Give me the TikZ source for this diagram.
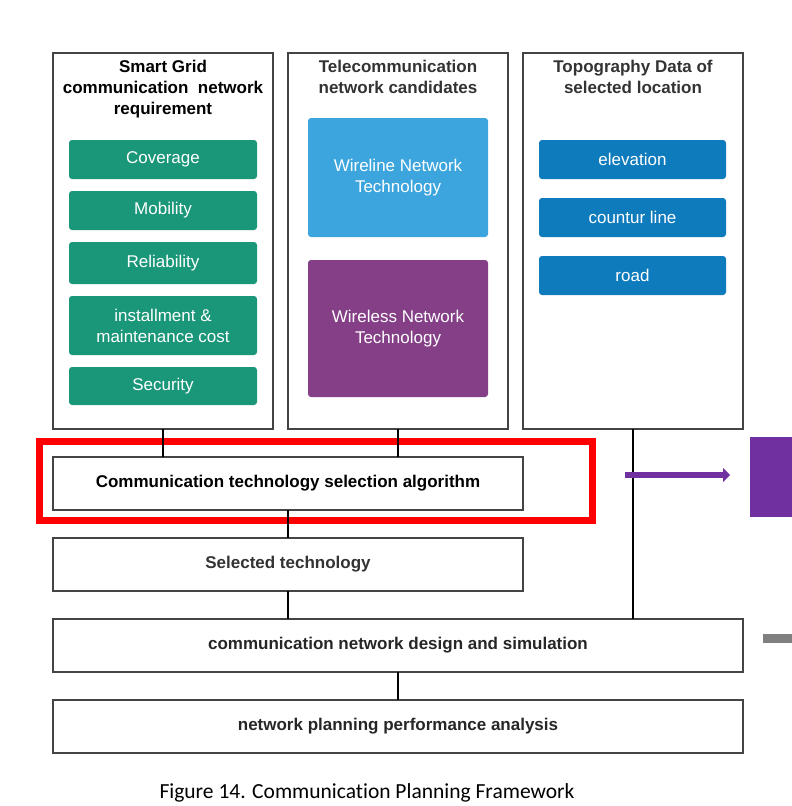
\documentclass[tikz,border=0pt]{standalone}
\usepackage{fontspec}
\setmainfont{Liberation Sans}
\newfontfamily\capfont[Ligatures=CommonOff]{Carlito}
\usetikzlibrary{arrows.meta}
\definecolor{reqgreen}{HTML}{1A9679}
\definecolor{wireblue}{HTML}{3CA5DD}
\definecolor{wirelesspurple}{HTML}{843F87}
\definecolor{topoblue}{HTML}{0E7BBD}
\definecolor{framegrey}{HTML}{444444}
\definecolor{sidepurple}{HTML}{7030A0}
\tikzset{
  outerbox/.style={draw=framegrey, line width=2.2pt, inner sep=0pt, outer sep=0pt, anchor=north west},
  titletext/.style={font=\fontsize{17}{21}\selectfont\bfseries, align=center, anchor=north},
  itembox/.style={rounded corners=3pt, inner sep=0pt, outer sep=0pt, anchor=north west, text=white,
    align=center, font=\fontsize{17}{21}\selectfont},
  stagebox/.style={draw=framegrey, line width=2.2pt, inner sep=0pt, outer sep=0pt, anchor=north west,
    font=\fontsize{17}{21}\selectfont\bfseries, minimum height=53pt},
  link/.style={draw=black, line width=1.4pt},
}
\begin{document}
\begin{tikzpicture}[x=1pt,y=-1pt]
\useasboundingbox (0,0) rectangle (792,806);
\clip (0,0) rectangle (792,806);

\node[outerbox, minimum width=220pt, minimum height=376pt] (req) at (53,53) {};
\node[outerbox, minimum width=220pt, minimum height=376pt] (cand) at (288,53) {};
\node[outerbox, minimum width=220pt, minimum height=376pt] (topo) at (523,53) {};

\node[titletext] (reqT) at (163,57) {Smart Grid\\communication\ \ network\\requirement};
\node[titletext, text=black!80] (candT) at (398,57) {Telecommunication\\network candidates};
\node[titletext, text=black!80] (topoT) at (633,57) {Topography Data of\\selected location};

\node[itembox, fill=reqgreen, minimum width=188pt, minimum height=39pt] (cov) at (69,140) {Coverage};
\node[itembox, fill=reqgreen, minimum width=188pt, minimum height=39pt] (mob) at (69,191) {Mobility};
\node[itembox, fill=reqgreen, minimum width=188pt, minimum height=42pt] (rel) at (69,242) {Reliability};
\node[itembox, fill=reqgreen, minimum width=188pt, minimum height=59pt] (cost) at (69,296) {installment \&\\maintenance cost};
\node[itembox, fill=reqgreen, minimum width=188pt, minimum height=38pt] (sec) at (69,367) {Security};

\node[itembox, fill=wireblue, minimum width=180pt, minimum height=119pt] (wire) at (308,118) {Wireline Network\\Technology};
\node[itembox, fill=wirelesspurple, minimum width=180pt, minimum height=137pt] (wless) at (308,260) {Wireless Network\\Technology};

\node[itembox, fill=topoblue, minimum width=187pt, minimum height=39pt] (elev) at (539,140) {elevation};
\node[itembox, fill=topoblue, minimum width=187pt, minimum height=39pt] (cont) at (539,198) {countur line};
\node[itembox, fill=topoblue, minimum width=187pt, minimum height=39pt] (road) at (539,256) {road};

\node[stagebox, minimum width=470pt] (algo) at (53,457) {Communication technology selection algorithm};
\node[stagebox, minimum width=470pt, text=black!80] (sel) at (53,538) {Selected technology};
\node[stagebox, minimum width=690pt, text=black!85] (des) at (53,619) {communication network design and simulation};
\node[stagebox, minimum width=690pt, text=black!85] (perf) at (53,700) {network planning performance analysis};

\draw[draw=red, line width=7pt] (39.5,441.5) rectangle (592.5,520.5);

\draw[link] (req.south) -- (req.south |- algo.north);
\draw[link] (cand.south) -- (cand.south |- algo.north);
\draw[link] (algo.south) -- (sel.north);
\draw[link] (sel.south) -- (sel.south |- des.north);
\draw[link] (topo.south) -- (topo.south |- des.north);
\draw[link] (des.south) -- (perf.north);

\node[fill=sidepurple, inner sep=0pt, outer sep=0pt, anchor=north west, minimum width=42pt, minimum height=80pt] (side) at (750,437) {};
\fill[black!50] (763,634) rectangle (792,643);
\coordinate (arrS) at (625,475);
\draw[sidepurple, line width=6pt, -{Triangle[length=7pt,width=14pt]}, shorten >=20pt] (arrS) -- (arrS -| side.west);

\node[font=\capfont\fontsize{21.5}{26}\selectfont, anchor=base] (cap) at (367,798) {Figure 14. Communication Planning Framework};
\end{tikzpicture}
\end{document}
